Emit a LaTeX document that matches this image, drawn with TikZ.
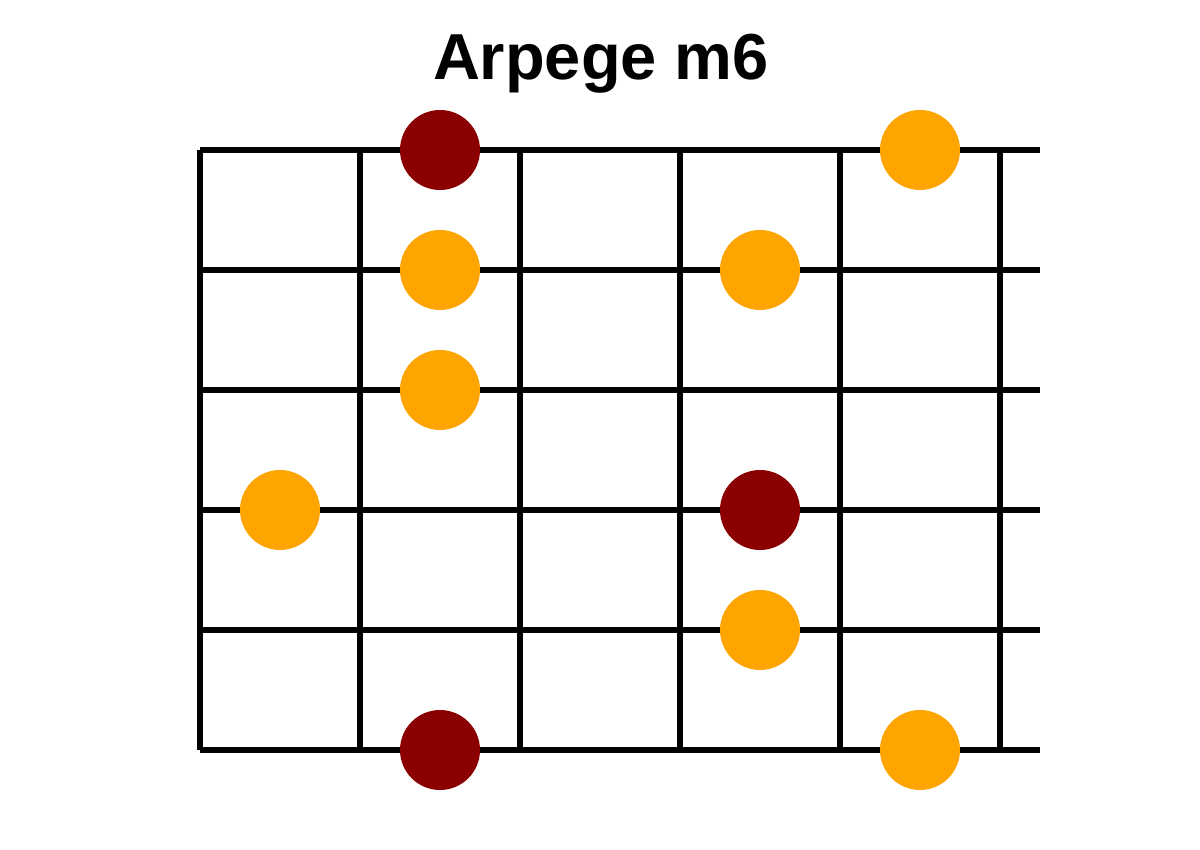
\documentclass[tikz,border=0pt]{standalone}
\usepackage{fontspec}
\setmainfont{Liberation Sans}
\definecolor{rootred}{HTML}{8B0000}
\definecolor{noteorange}{HTML}{FFA500}
\begin{document}
\begin{tikzpicture}[x=1pt,y=-1pt,
  fret/.style={line width=5.5pt,black},
  root/.style={circle,fill=rootred,minimum size=80pt,inner sep=0pt},
  note/.style={circle,fill=noteorange,minimum size=80pt,inner sep=0pt}]
\useasboundingbox[fill=white] (0,0) rectangle (1200,850);
\node[font=\bfseries\fontsize{65}{70}\selectfont,anchor=base,inner sep=0pt] (title) at (601,80) {Arpege m6};
\foreach \y in {150,270,390,510,630,750} \draw[fret] (200,\y) -- (1040,\y);
\foreach \x in {200,360,520,680,840,1000} \draw[fret] (\x,150) -- (\x,750);
\node[root] (r1) at (440,150) {};
\node[note] (n1) at (920,150) {};
\node[note] (n2) at (440,270) {};
\node[note] (n3) at (760,270) {};
\node[note] (n4) at (440,390) {};
\node[note] (n5) at (280,510) {};
\node[root] (r2) at (760,510) {};
\node[note] (n6) at (760,630) {};
\node[root] (r3) at (440,750) {};
\node[note] (n7) at (920,750) {};
\end{tikzpicture}
\end{document}
